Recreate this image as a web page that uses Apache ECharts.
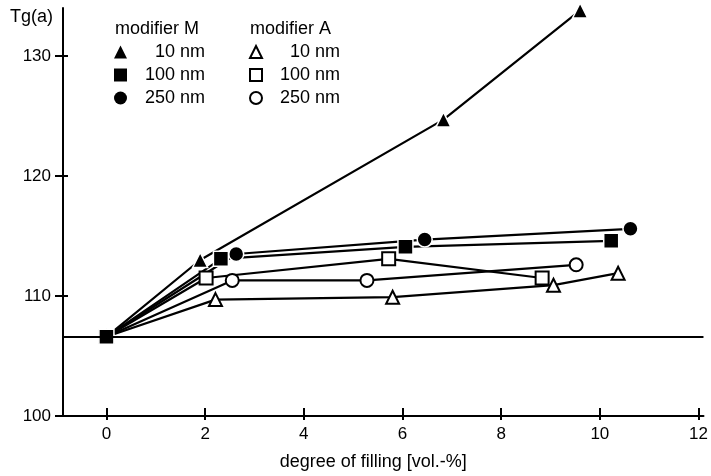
<!DOCTYPE html>
<html>
<head>
<meta charset="utf-8">
<script src="https://cdn.jsdelivr.net/npm/echarts@6/dist/echarts.min.js"></script>
<style>
  html, body { margin: 0; padding: 0; background: #fff; }
  #chart { width: 711px; height: 476px; }
</style>
</head>
<body>
<div id="chart"></div>
<script>
// tick labels
const xTicks = [0, 2, 4, 6, 8, 10, 12];
const yTicks = [100, 110, 120, 130];
// Tg of the unfilled sample (horizontal line)
const baseTg = 106.6;

// modifier M (filled symbols)
const m10 = [[0, 106.6], [1.90, 113.0], [6.83, 124.7], [9.60, 133.8]];
const m100 = [[0, 106.6], [2.32, 113.1], [6.06, 114.1], [10.23, 114.6]];
const m250 = [[0, 106.6], [2.63, 113.5], [6.45, 114.7], [10.62, 115.6]];
// modifier A (open symbols)
const a10 = [[0, 106.6], [2.21, 109.7], [5.80, 109.9], [9.06, 110.9], [10.37, 111.9]];
const a100 = [[0, 106.6], [2.02, 111.5], [5.72, 113.1], [8.83, 111.5]];
const a250 = [[0, 106.6], [2.55, 111.3], [5.28, 111.3], [9.52, 112.6]];

const font = "'Liberation Sans', Arial, sans-serif";
const xMin = -0.88, xMax = 12.1, yMin = 100, yMax = 134;

const chart = echarts.init(document.getElementById('chart'), null, { renderer: 'canvas' });

function makeSeries(name, data, symbol, filled) {
  return {
    name: name,
    type: 'line',
    data: data,
    symbol: symbol,
    symbolSize: filled ? 15 : 13,
    showAllSymbol: true,
    lineStyle: { color: '#000', width: 2.2 },
    itemStyle: filled
      ? { color: '#000', borderColor: '#fff', borderWidth: 1.5, opacity: 1 }
      : { color: '#fff', borderColor: '#000', borderWidth: 2, opacity: 1 },
    emphasis: { disabled: true },
    animation: false
  };
}

// filled series last so they sit on top at the shared origin point
const series = [
  makeSeries('A 10 nm', a10, 'triangle', false),
  makeSeries('A 100 nm', a100, 'rect', false),
  makeSeries('A 250 nm', a250, 'circle', false),
  makeSeries('M 10 nm', m10, 'triangle', true),
  makeSeries('M 250 nm', m250, 'circle', true),
  makeSeries('M 100 nm', m100, 'rect', true)
];
series[0].markLine = {
  silent: true,
  symbol: ['none', 'none'],
  label: { show: false },
  lineStyle: { color: '#000', width: 2.2, type: 'solid' },
  emphasis: { disabled: true },
  data: [{ yAxis: baseTg }]
};

const legendText = {
  fontFamily: font,
  fontSize: 18,
  color: '#000',
  rich: { r: { width: 73, align: 'right', fontFamily: font, fontSize: 18, lineHeight: 17, color: '#000' } }
};
function legendLabel(name) {
  return '{r|' + name.slice(2) + '}';
}

var option = {
  backgroundColor: '#fff',
  animation: false,
  title: [
    { text: 'modifier M', left: 115, top: 20, padding: 0,
      textStyle: { fontFamily: font, fontSize: 18, fontWeight: 'normal', color: '#000' } },
    { text: 'modifier A', left: 250, top: 20, padding: 0,
      textStyle: { fontFamily: font, fontSize: 18, fontWeight: 'normal', color: '#000' } }
  ],
  legend: [
    {
      data: [{ name: 'M 10 nm', icon: 'triangle' }, { name: 'M 100 nm', icon: 'rect' }, { name: 'M 250 nm', icon: 'circle' }],
      orient: 'vertical', left: 114, top: 43, padding: 0, itemGap: 5,
      itemWidth: 13, itemHeight: 13, selectedMode: false,
      itemStyle: { borderWidth: 0 },
      formatter: legendLabel, textStyle: legendText
    },
    {
      data: [{ name: 'A 10 nm', icon: 'triangle' }, { name: 'A 100 nm', icon: 'rect' }, { name: 'A 250 nm', icon: 'circle' }],
      orient: 'vertical', left: 249, top: 43, padding: 0, itemGap: 5,
      itemWidth: 12, itemHeight: 12, selectedMode: false,
      formatter: legendLabel, textStyle: legendText
    }
  ],
  grid: { left: 63, right: 0, top: 8, bottom: 55, containLabel: false },
  xAxis: [
    {
      type: 'value', min: xMin, max: xMax, position: 'bottom',
      name: 'degree of filling [vol.-%]', nameLocation: 'middle', nameGap: 37,
      nameTextStyle: { fontFamily: font, fontSize: 18, color: '#000', padding: [0, 20, 0, 0] },
      axisLine: { show: true, onZero: false, lineStyle: { color: '#000', width: 2 } },
      axisTick: { show: true, inside: true, length: 8, customValues: xTicks, lineStyle: { color: '#000', width: 2 } },
      axisLabel: { show: true, customValues: xTicks, margin: 10, fontFamily: font, fontSize: 17, color: '#000' },
      splitLine: { show: false }
    },
    {
      type: 'value', min: xMin, max: xMax, position: 'bottom',
      axisLine: { show: false, onZero: false },
      axisTick: { show: true, inside: false, length: 4, customValues: xTicks, lineStyle: { color: '#000', width: 2 } },
      axisLabel: { show: false },
      splitLine: { show: false }
    }
  ],
  yAxis: [
    {
      type: 'value', min: yMin, max: yMax, position: 'left',
      name: 'Tg(a)', nameLocation: 'end', nameGap: 0,
      nameTextStyle: { fontFamily: font, fontSize: 18, color: '#000', align: 'right', verticalAlign: 'top', padding: [0, 10, 0, 0] },
      axisLine: { show: true, onZero: false, lineStyle: { color: '#000', width: 2 } },
      axisTick: { show: true, inside: false, length: 8, customValues: yTicks, lineStyle: { color: '#000', width: 2 } },
      axisLabel: { show: true, customValues: yTicks, margin: 12, fontFamily: font, fontSize: 17, color: '#000' },
      splitLine: { show: false }
    },
    {
      type: 'value', min: yMin, max: yMax, position: 'left',
      axisLine: { show: false, onZero: false },
      axisTick: { show: true, inside: true, length: 5, customValues: yTicks, lineStyle: { color: '#000', width: 2 } },
      axisLabel: { show: false },
      splitLine: { show: false }
    }
  ],
  series: series
};

chart.setOption(option);
</script>
</body>
</html>
